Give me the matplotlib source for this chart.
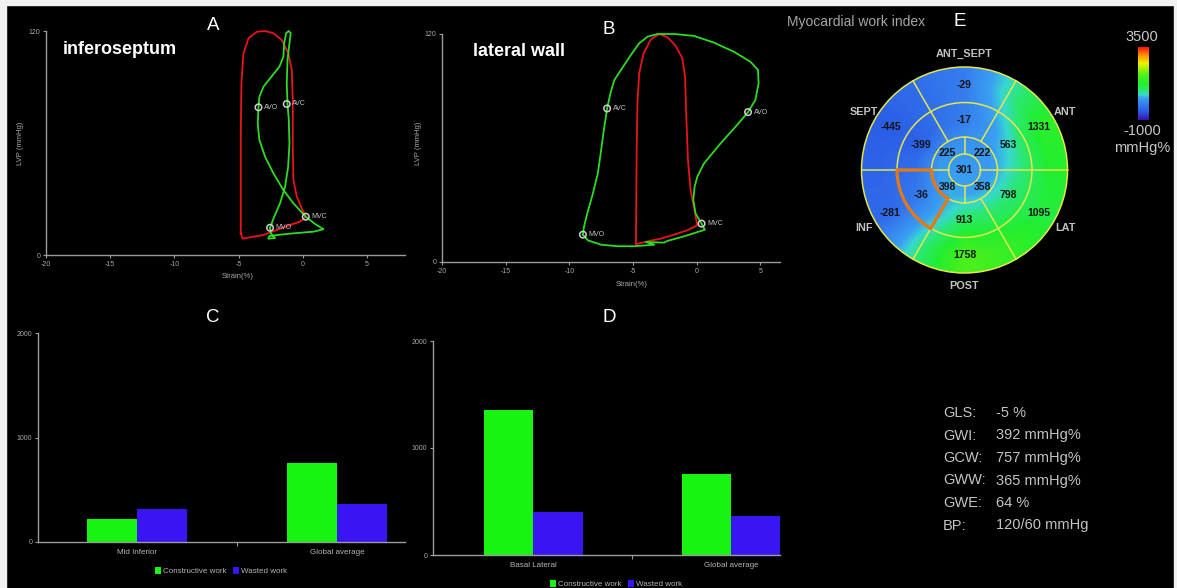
import numpy as np
import matplotlib
matplotlib.use("Agg")
import matplotlib.pyplot as plt
from matplotlib.colors import LinearSegmentedColormap
from matplotlib.patches import Circle, Wedge, Rectangle
from matplotlib.cm import ScalarMappable
from matplotlib.colors import Normalize

plt.rcParams["font.family"] = ["Liberation Sans", "DejaVu Sans"]
plt.rcParams["axes.unicode_minus"] = False

W, H = 1177, 588

# --------------------------------------------------------------------------
# pressure-strain loops: strain (%) vs LV pressure (mmHg)
# --------------------------------------------------------------------------
sept_red_strain = [-4.83, -4.83, -4.83, -4.78, -4.62, -4.23, -3.58, -2.94, -2.29,
                   -1.64, -1.12, -0.86, -0.78, -0.78, -0.73, -0.47, -0.08, 0.23,
                   -0.21, -0.99, -2.03, -3.06, -4.10, -4.68, -4.83]
sept_red_lvp = [11.6, 29.5, 65.2, 92.0, 108.0, 116.1, 119.6, 120.0, 118.8,
                115.2, 108.0, 99.1, 83.0, 56.3, 40.2, 31.3, 25.0, 20.5,
                17.9, 16.1, 13.4, 10.7, 9.5, 8.75, 11.6]

sept_green_strain = [-2.55, -2.23, -1.77, -1.38, -1.14, -1.04, -1.09, -1.19, -1.25,
                     -1.19, -1.04, -0.94, -1.09, -1.30, -1.45, -1.51, -1.82, -2.55,
                     -3.06, -3.38, -3.45, -3.51, -3.38, -2.94, -2.29, -1.51, -0.73,
                     0.23, 0.96, 1.61, 0.83, -0.73, -1.77, -2.60, -2.68, -2.16,
                     -2.49, -2.55]
sept_green_lvp = [14.6, 20.5, 27.7, 36.6, 47.3, 59.8, 72.3, 80.9, 92.0,
                  104.5, 113.4, 118.8, 120.0, 118.8, 113.4, 106.3, 100.9, 94.6,
                  90.2, 84.8, 79.1, 70.5, 61.6, 52.7, 43.8, 34.8, 27.7,
                  20.5, 16.6, 13.8, 12.5, 11.6, 10.9, 10.2, 8.75, 9.1,
                  11.6, 14.6]

sept_events = ["AVO", "AVC", "MVC", "MVO"]
sept_event_strain = [-3.45, -1.25, 0.23, -2.55]
sept_event_lvp = [79.1, 80.9, 20.5, 14.6]

lat_red_strain = [-4.77, -4.74, -4.71, -4.64, -4.51, -4.17, -3.59, -2.94, -2.29,
                  -1.64, -1.12, -0.91, -0.81, -0.68, -0.47, -0.21, 0.05, -0.73,
                  -1.77, -2.81, -3.72, -4.38, -4.77]
lat_red_lvp = [9.3, 32.5, 58.9, 85.2, 99.3, 109.8, 117.2, 120.0, 118.3,
               113.7, 107.2, 97.5, 76.4, 53.6, 37.8, 29.0, 19.3, 16.7,
               14.4, 12.3, 11.1, 10.0, 9.3]

lat_green_strain = [-8.93, -8.54, -7.50, -6.20, -4.90, -3.33, -3.98, -2.55, -2.29,
                    -0.99, 0.65, 0.39, -0.08, -0.26, -0.16, 0.05, 0.57, 1.88,
                    3.18, 4.04, 4.61, 4.87, 4.82, 4.22, 2.92, 1.35, -0.21,
                    -1.77, -3.07, -3.85, -4.51, -5.16, -5.94, -6.46, -6.77, -7.03,
                    -7.29, -7.50, -7.76, -8.15, -8.59, -8.85, -8.93]
lat_green_lvp = [14.4, 11.4, 9.1, 8.3, 8.3, 9.1, 10.5, 10.2, 11.1,
                 13.5, 17.0, 20.2, 25.5, 32.5, 39.5, 44.8, 51.8, 62.4,
                 72.1, 78.9, 85.2, 94.0, 101.1, 105.4, 110.7, 115.5, 119.0,
                 120.0, 120.0, 118.6, 115.1, 109.0, 101.1, 95.8, 88.8, 80.8,
                 69.4, 58.9, 46.6, 36.0, 25.5, 18.5, 14.4]

lat_events = ["MVO", "AVC", "AVO", "MVC"]
lat_event_strain = [-8.93, -7.03, 4.04, 0.39]
lat_event_lvp = [14.4, 80.8, 78.9, 20.2]

# --------------------------------------------------------------------------
# constructive / wasted work (mmHg%)
# --------------------------------------------------------------------------
work_labels = ["Constructive work", "Wasted work"]
c_categories = ["Mid Inferior", "Global average"]
c_constructive = [220, 757]
c_wasted = [316, 365]
d_categories = ["Basal Lateral", "Global average"]
d_constructive = [1355, 757]
d_wasted = [402, 365]

# --------------------------------------------------------------------------
# 17-segment bull's eye, myocardial work index (mmHg%)
# --------------------------------------------------------------------------
wall_names = ["ANT", "ANT_SEPT", "SEPT", "INF", "POST", "LAT"]
wall_angles = [30, 90, 150, 210, 270, 330]
basal_mwi = [1331, -29, -445, -281, 1758, 1095]
mid_mwi = [563, -17, -399, -36, 913, 798]
apical_angles = [45, 135, 225, 315]
apical_mwi = [222, 225, 398, 358]
apex_mwi = 301
mwi_min, mwi_max = -1000, 3500

stat_names = ["GLS:", "GWI:", "GCW:", "GWW:", "GWE:", "BP:"]
stat_values = ["-5 %", "392 mmHg%", "757 mmHg%", "365 mmHg%", "64 %", "120/60 mmHg"]

BG = "#000000"
AXIS = "#9c9c9c"
TICK = "#a8a8a8"
RED = "#e8141c"
GREEN = "#2cdc24"
BAR_GREEN = "#18f412"
BAR_BLUE = "#3a14f2"
SEG_LINE = "#e4e64c"

mwi_cmap = LinearSegmentedColormap.from_list("mwi", [
    (0.000, "#3c10a8"),
    (0.111, "#2a5ae6"),
    (0.222, "#3680ee"),
    (0.300, "#3aa0f2"),
    (0.344, "#38d8d0"),
    (0.400, "#2ae870"),
    (0.489, "#22ee30"),
    (0.622, "#50f018"),
    (0.778, "#f0f000"),
    (0.889, "#ff9000"),
    (1.000, "#ff1010"),
])


def px_axes(fig, left, top, right, bottom):
    return fig.add_axes([left / W, 1 - bottom / H, (right - left) / W, (bottom - top) / H])


def px_text(fig, x, y, s, **kw):
    kw.setdefault("ha", "center")
    kw.setdefault("va", "center")
    return fig.text(x / W, 1 - y / H, s, **kw)


def style_axes(ax):
    ax.set_facecolor("none")
    for side in ("top", "right"):
        ax.spines[side].set_visible(False)
    for side in ("left", "bottom"):
        ax.spines[side].set_color(AXIS)
        ax.spines[side].set_linewidth(1.0)
    ax.tick_params(colors=AXIS, labelcolor=TICK, labelsize=5, length=2.5,
                   width=0.8, pad=1.5)


def loop_panel(fig, box, xmax, red, green, events):
    ax = px_axes(fig, *box)
    style_axes(ax)
    ax.plot(red[0], red[1], color=RED, lw=1.3, clip_on=False, zorder=3)
    ax.plot(green[0], green[1], color=GREEN, lw=1.3, clip_on=False, zorder=4)
    names, xs, ys = events
    ax.scatter(xs, ys, s=22, facecolors="none", edgecolors="#cfcfcf",
               linewidths=1.1, zorder=5, clip_on=False)
    for name, x, y in zip(names, xs, ys):
        ax.annotate(name, (x, y), xytext=(4, 0), textcoords="offset points",
                    va="center", ha="left", fontsize=5, color="#c4c4c4")
    ax.set_xlim(-20, xmax)
    ax.set_ylim(0, 120)
    ax.set_xticks(np.arange(-20, 6, 5))
    ax.set_yticks([0, 120])
    return ax


def work_panel(fig, box, xlim, categories, constructive, wasted, label_pad):
    ax = px_axes(fig, *box)
    style_axes(ax)
    x = np.arange(len(categories))
    w = 0.25
    b1 = ax.bar(x - w / 2, constructive, w, color=BAR_GREEN, label=work_labels[0])
    b2 = ax.bar(x + w / 2, wasted, w, color=BAR_BLUE, label=work_labels[1])
    ax.set_xlim(*xlim)
    ax.set_ylim(0, 2000)
    ax.set_yticks([0, 1000, 2000])
    ax.set_xticks(x, categories)
    ax.set_xticks([0.5], minor=True)
    ax.tick_params(axis="x", which="major", length=0, pad=label_pad,
                   labelsize=5.8, labelcolor="#b4b4b4")
    ax.tick_params(axis="x", which="minor", length=3, color=AXIS, width=0.8)
    return ax, (b1, b2)


fig = plt.figure(figsize=(W / 100, H / 100), dpi=100)
fig.patch.set_facecolor(BG)

# ---- A: inferoseptum loop
loop_panel(fig, (46, 31, 405, 255), 7.96,
           (sept_red_strain, sept_red_lvp), (sept_green_strain, sept_green_lvp),
           (sept_events, sept_event_strain, sept_event_lvp))
px_text(fig, 120, 50, "inferoseptum", fontsize=13, fontweight="bold", color="white")
px_text(fig, 21, 143, "LVP (mmHg)", rotation=90, fontsize=5.5, color=TICK)
px_text(fig, 238, 277, "Strain(%)", fontsize=5.5, color=TICK)

# ---- B: lateral wall loop
loop_panel(fig, (442, 34, 780, 262), 6.55,
           (lat_red_strain, lat_red_lvp), (lat_green_strain, lat_green_lvp),
           (lat_events, lat_event_strain, lat_event_lvp))
px_text(fig, 519, 51, "lateral wall", fontsize=13, fontweight="bold", color="white")
px_text(fig, 418, 143, "LVP (mmHg)", rotation=90, fontsize=5.5, color=TICK)
px_text(fig, 632, 285, "Strain(%)", fontsize=5.5, color=TICK)

# ---- C / D: work bars
axC, hC = work_panel(fig, (38, 333, 405, 542), (-0.495, 1.34),
                     c_categories, c_constructive, c_wasted, 5)
axD, hD = work_panel(fig, (433, 341, 780, 555), (-0.505, 1.247),
                     d_categories, d_constructive, d_wasted, 5)
for handles, (lx, ly) in ((hC, (221, 571)), (hD, (616, 584))):
    fig.legend(handles=handles, labels=work_labels, loc="center",
               bbox_to_anchor=(lx / W, 1 - ly / H), ncol=2, frameon=False,
               fontsize=5.8, labelcolor="#b4b4b4", handlelength=0.7,
               handleheight=0.9, handletextpad=0.3, columnspacing=0.8,
               borderpad=0, borderaxespad=0)

# ---- E: bull's eye
cx, cy, rpx = 964.5, 170, 103
axE = px_axes(fig, cx - 1.5 * rpx, cy - 1.5 * rpx, cx + 1.5 * rpx, cy + 1.5 * rpx)
axE.set_xlim(-1.5, 1.5)
axE.set_ylim(-1.5, 1.5)
axE.axis("off")

ring_edges = [0.155, 0.32, 0.655, 1.0]
ring_mids = [0.0, 0.24, 0.49, 0.83]

g = np.linspace(-1, 1, 501)
gx, gy = np.meshgrid(g, g)
rad = np.hypot(gx, gy)
ang = np.degrees(np.arctan2(gy, gx)) % 360


def ring_field(vals, centers):
    c = np.asarray(centers, float)
    return np.interp(ang, np.concatenate([c - 360, c, c + 360]), np.tile(vals, 3))


layers = [np.full_like(rad, apex_mwi, dtype=float),
          ring_field(apical_mwi, apical_angles),
          ring_field(mid_mwi, wall_angles),
          ring_field(basal_mwi, wall_angles)]
field = layers[-1].copy()
for k in range(3):
    r0, r1 = ring_mids[k], ring_mids[k + 1]
    sel = (rad >= r0) & (rad < r1)
    t = (rad[sel] - r0) / (r1 - r0)
    field[sel] = layers[k][sel] * (1 - t) + layers[k + 1][sel] * t

disk = Circle((0, 0), 1.0, transform=axE.transData)
im = axE.imshow(field, extent=(-1, 1, -1, 1), origin="lower", cmap=mwi_cmap,
                vmin=mwi_min, vmax=mwi_max, interpolation="bilinear", zorder=2)
im.set_clip_path(disk)

for r in ring_edges:
    axE.add_patch(Circle((0, 0), r, fill=False, ec=SEG_LINE, lw=1.1, zorder=3))
for a in range(0, 360, 60):
    t = np.radians(a)
    axE.plot([0.32 * np.cos(t), np.cos(t)], [0.32 * np.sin(t), np.sin(t)],
             color=SEG_LINE, lw=1.1, zorder=3)
for a in range(0, 360, 90):
    t = np.radians(a)
    axE.plot([0.155 * np.cos(t), 0.32 * np.cos(t)], [0.155 * np.sin(t), 0.32 * np.sin(t)],
             color=SEG_LINE, lw=1.1, zorder=3)
axE.add_patch(Wedge((0, 0), 0.655, 180, 240, width=0.655 - 0.32, fill=False,
                    ec="#e0781c", lw=2.4, zorder=4))


def seg_label(r, a, v):
    t = np.radians(a)
    axE.text(r * np.cos(t), r * np.sin(t), str(v), ha="center", va="center",
             fontsize=7.5, fontweight="bold", color="#141414", zorder=5)


for a, v in zip(wall_angles, basal_mwi):
    seg_label(ring_mids[3], a, v)
for a, v in zip(wall_angles, mid_mwi):
    seg_label(ring_mids[2], a, v)
for a, v in zip(apical_angles, apical_mwi):
    seg_label(ring_mids[1], a, v)
seg_label(0, 0, apex_mwi)

for name, a in zip(wall_names, wall_angles):
    t = np.radians(a)
    axE.text(1.13 * np.cos(t), 1.13 * np.sin(t), name, ha="center", va="center",
             fontsize=7.8, fontweight="bold", color="#c2c2c2", zorder=1)

px_text(fig, 787, 22, "Myocardial work index", ha="left", fontsize=10, color="#a6a6a6")

cax = px_axes(fig, 1138, 47, 1149, 120)
cb = fig.colorbar(ScalarMappable(Normalize(mwi_min, mwi_max), mwi_cmap), cax=cax)
cb.set_ticks([])
cb.outline.set_visible(False)
px_text(fig, 1142, 37, str(mwi_max), fontsize=10.5, color="#c8c8c8")
px_text(fig, 1142, 131, str(mwi_min), fontsize=10.5, color="#c8c8c8")
px_text(fig, 1142, 148, "mmHg%", fontsize=10.5, color="#c8c8c8")

# ---- global indices
for i, (name, val) in enumerate(zip(stat_names, stat_values)):
    y = 413 + 22.5 * i
    px_text(fig, 943, y, name, ha="left", fontsize=10.5, color="#c4c4c4")
    px_text(fig, 996, y, val, ha="left", fontsize=10.5, color="#c4c4c4")

# ---- panel letters
for letter, (x, y) in zip("ABCDE", [(213, 25), (609, 29), (213, 318), (609, 317), (960, 22)]):
    px_text(fig, x, y, letter, fontsize=13.5, color="white")

# ---- light frame on the top, left and right edges
for x0, y0, w, h in ((0, 0, W, 5), (0, 0, 6, H), (W - 3, 0, 3, H)):
    fig.add_artist(Rectangle((x0 / W, 1 - (y0 + h) / H), w / W, h / H,
                             transform=fig.transFigure, color="#f2f2f2", zorder=10))

fig.savefig("out.png", dpi=100, facecolor=fig.get_facecolor())
